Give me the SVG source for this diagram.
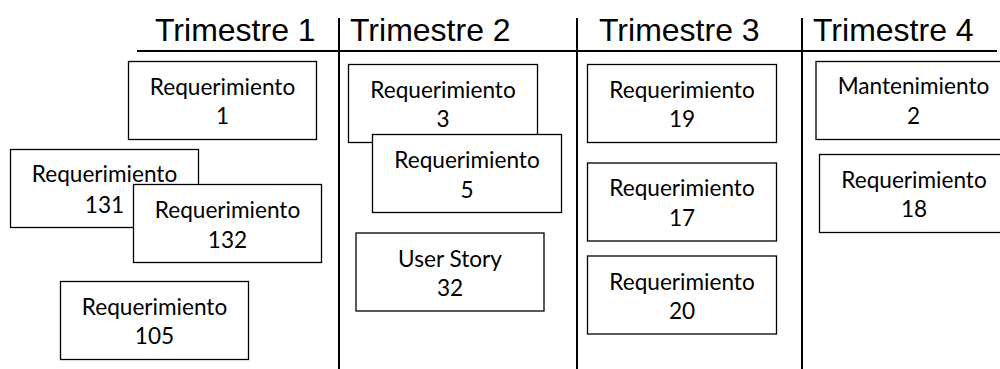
<svg xmlns="http://www.w3.org/2000/svg" width="1000" height="369" viewBox="0 0 1000 369">
  <style>
    .head { font-family: "Liberation Sans", Arial, sans-serif; font-size: 32px; fill: #000; }
    .card rect { fill: #fff; stroke: #000; stroke-width: 1.3; }
    .card text { font-family: Lato, "Open Sans", sans-serif; font-size: 22.6px; fill: #000; text-anchor: middle; }
    .rule { stroke: #000; stroke-width: 2; fill: none; }
  </style>
  <rect width="1000" height="369" fill="#fff"/>

  <!-- quarter headings -->
  <g id="headings">
    <text class="head" x="155" y="41">Trimestre 1</text>
    <text class="head" x="350" y="41">Trimestre 2</text>
    <text class="head" x="599" y="41">Trimestre 3</text>
    <text class="head" x="813" y="41">Trimestre 4</text>
  </g>

  <!-- board rules: header line and column separators -->
  <g id="connectors">
    <line class="rule" x1="137" y1="51" x2="997" y2="51"/>
    <line class="rule" x1="339" y1="18" x2="339" y2="369"/>
    <line class="rule" x1="577" y1="18" x2="577" y2="369"/>
    <line class="rule" x1="802" y1="18" x2="802" y2="369"/>
  </g>

  <!-- Trimestre 1 -->
  <g id="req1" class="card">
    <rect x="128.5" y="61.5" width="188" height="78"/>
    <text x="222.5" y="95">Requerimiento</text>
    <text x="222.5" y="124">1</text>
  </g>
  <g id="req131" class="card">
    <rect x="10.5" y="149.5" width="188" height="78"/>
    <text x="104.5" y="182">Requerimiento</text>
    <text x="104.5" y="213">131</text>
  </g>
  <g id="req132" class="card">
    <rect x="133.5" y="184.5" width="188" height="78"/>
    <text x="227.5" y="218">Requerimiento</text>
    <text x="227.5" y="248">132</text>
  </g>
  <g id="req105" class="card">
    <rect x="60.5" y="281.5" width="188" height="78"/>
    <text x="154.5" y="315">Requerimiento</text>
    <text x="154.5" y="344">105</text>
  </g>

  <!-- Trimestre 2 -->
  <g id="req3" class="card">
    <rect x="348.5" y="64.5" width="189" height="78"/>
    <text x="443" y="98">Requerimiento</text>
    <text x="443" y="127">3</text>
  </g>
  <g id="req5" class="card">
    <rect x="372.5" y="134.5" width="189" height="78"/>
    <text x="467" y="168">Requerimiento</text>
    <text x="467" y="198">5</text>
  </g>
  <g id="us32" class="card">
    <rect x="356" y="233" width="188" height="78"/>
    <text x="450" y="267">User Story</text>
    <text x="450" y="296">32</text>
  </g>

  <!-- Trimestre 3 -->
  <g id="req19" class="card">
    <rect x="587.5" y="64.5" width="189" height="78"/>
    <text x="682" y="98">Requerimiento</text>
    <text x="682" y="127">19</text>
  </g>
  <g id="req17" class="card">
    <rect x="587.5" y="163" width="189" height="78"/>
    <text x="682" y="196">Requerimiento</text>
    <text x="682" y="226">17</text>
  </g>
  <g id="req20" class="card">
    <rect x="587.5" y="256" width="189" height="78"/>
    <text x="682" y="290">Requerimiento</text>
    <text x="682" y="319">20</text>
  </g>

  <!-- Trimestre 4 -->
  <g id="mant2" class="card">
    <rect x="816" y="61.5" width="195" height="78"/>
    <text x="913.5" y="94">Mantenimiento</text>
    <text x="913.5" y="124">2</text>
  </g>
  <g id="req18" class="card">
    <rect x="819.5" y="154.5" width="189" height="78"/>
    <text x="914" y="188">Requerimiento</text>
    <text x="914" y="217">18</text>
  </g>
</svg>
